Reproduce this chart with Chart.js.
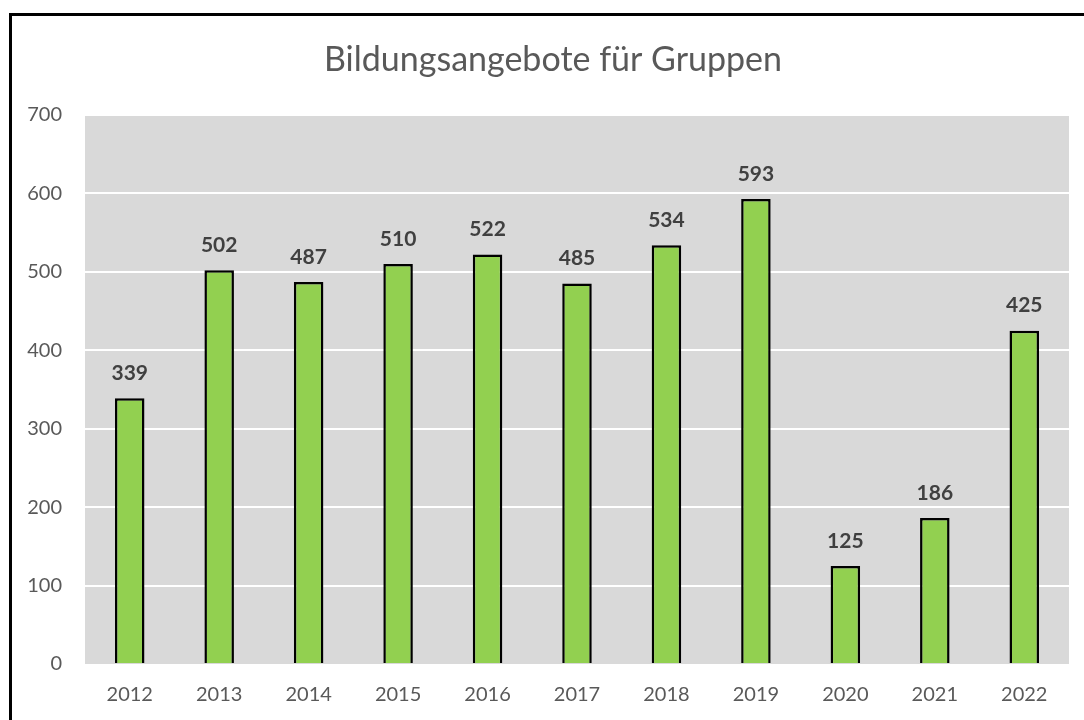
<!DOCTYPE html>
<html><head><meta charset="utf-8">
<script src="https://cdn.jsdelivr.net/npm/chart.js@4/dist/chart.umd.min.js"></script>
<style>
html,body{margin:0;padding:0;background:#fff;overflow:hidden;}
#wrap{position:absolute;left:0;top:0;width:1084px;height:720px;}
#frame{position:absolute;left:9px;top:13px;width:1090px;height:720px;border:3px solid #000;box-sizing:border-box;pointer-events:none;}
</style></head>
<body>
<div id="wrap"><canvas id="c" width="1084" height="720"></canvas></div>
<div id="frame"></div>
<script>
const titleText = 'Bildungsangebote für Gruppen';
const years = ['2012','2013','2014','2015','2016','2017','2018','2019','2020','2021','2022'];
const angebote = [339, 502, 487, 510, 522, 485, 534, 593, 125, 186, 425];
const yTicks = [0, 100, 200, 300, 400, 500, 600, 700];

const FONT = 'Lato, "Open Sans", sans-serif';

const extras = {
  id: 'extras',
  beforeDraw(chart) {
    const {ctx, chartArea: a} = chart;
    ctx.save();
    ctx.fillStyle = '#d9d9d9';
    ctx.fillRect(a.left, a.top, a.right - a.left, a.bottom - a.top);
    ctx.fillStyle = '#595959';
    ctx.font = '34px ' + FONT;
    ctx.textAlign = 'center';
    ctx.textBaseline = 'middle';
    ctx.fillText(titleText, 553, 60);
    ctx.restore();
  },
  afterDatasetsDraw(chart) {
    const {ctx} = chart;
    const meta = chart.getDatasetMeta(0);
    ctx.save();
    ctx.fillStyle = '#404040';
    ctx.font = 'bold 21px ' + FONT;
    ctx.textAlign = 'center';
    ctx.textBaseline = 'middle';
    meta.data.forEach((bar, i) => {
      ctx.fillText(String(chart.data.datasets[0].data[i]), bar.x, bar.y - 25);
    });
    ctx.restore();
  }
};

new Chart(document.getElementById('c'), {
  type: 'bar',
  data: {
    labels: years,
    datasets: [{
      data: angebote,
      backgroundColor: '#92d050',
      borderColor: '#000000',
      borderWidth: 2.5,
      borderSkipped: 'bottom',
      categoryPercentage: 1,
      barPercentage: 0.33
    }]
  },
  options: {
    responsive: false,
    animation: false,
    layout: {padding: {left: 0, right: 15, top: 115, bottom: 0}},
    plugins: {legend: {display: false}, title: {display: false}, tooltip: {enabled: false}},
    scales: {
      x: {
        grid: {display: false, drawTicks: false},
        border: {display: false},
        ticks: {color: '#595959', font: {family: FONT, size: 20}, padding: 19},
        afterFit(s) { s.height = 56; }
      },
      y: {
        min: 0, max: 700,
        afterBuildTicks(s) { s.ticks = yTicks.map(v => ({value: v})); },
        grid: {color: ctx => ctx.tick.value === 0 ? 'rgba(0,0,0,0)' : '#ffffff', lineWidth: 2, drawTicks: false},
        border: {display: false},
        ticks: {color: '#595959', font: {family: FONT, size: 20}, padding: 23},
        afterFit(s) { s.width = 85; }
      }
    }
  },
  plugins: [extras]
});
</script>
</body></html>
